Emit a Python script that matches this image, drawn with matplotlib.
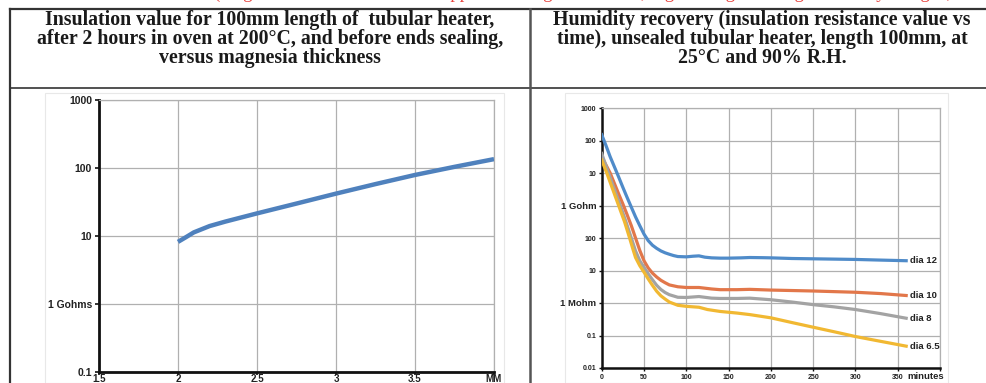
import matplotlib
matplotlib.use("Agg")
import matplotlib.pyplot as plt
from matplotlib.lines import Line2D
from matplotlib.patches import Rectangle

W, H = 987, 383

# ---------------- data ----------------
thickness_mm = [2.0, 2.05, 2.1, 2.2, 2.3, 2.5, 2.75, 3.0, 3.25, 3.5, 3.75, 4.0]
insulation_gohm = [8.2, 9.6, 11.3, 14.0, 16.3, 21.5, 30.0, 42.0, 58.0, 79.0, 104.0, 135.0]

left_xticks = [1.5, 2, 2.5, 3, 3.5, 4]
left_xlabels = ["1.5", "2", "2.5", "3", "3.5", "MM"]
left_yticks = [0.1, 1, 10, 100, 1000]
left_ylabels = ["0.1", "1 Gohms", "10", "100", "1000"]

# insulation resistance vs minutes, values in MOhm
t_dia12 = [0, 5, 10, 15, 20, 25, 30, 35, 40, 45, 50, 55, 60, 65, 70, 75, 80, 85, 90, 100, 108, 115,
           122, 130, 140, 150, 165, 175, 190, 200, 225, 250, 275, 300, 330, 360]
dia12 = [151000, 70800, 31600, 15500, 7590, 3630, 1780, 891, 447, 240, 132, 83, 60, 48, 40, 35, 31.6,
         28.8, 26.9, 26.3, 27.5, 28.2, 25.7, 24.5, 24, 24, 24.5, 25.1, 24.8, 24.5, 23.4, 22.9, 22.4,
         21.9, 20.9, 20.0]
t_dia10 = [0, 5, 10, 15, 20, 25, 30, 35, 40, 45, 50, 55, 60, 65, 70, 75, 80, 90, 100, 115, 130, 140,
           160, 175, 200, 250, 300, 330, 360]
dia10 = [31600, 17800, 10000, 4790, 2290, 1120, 525, 240, 100, 41.7, 20, 12, 8.3, 6.3, 5.0, 4.2, 3.6,
         3.16, 3.0, 3.0, 2.7, 2.57, 2.57, 2.63, 2.5, 2.34, 2.14, 1.95, 1.7]
t_dia8 = [0, 4, 8, 15, 22, 28, 35, 40, 45, 50, 55, 60, 65, 70, 75, 80, 90, 100, 115, 130, 140, 160,
          175, 200, 225, 250, 275, 300, 330, 360]
dia8 = [39800, 20000, 10000, 3160, 1000, 355, 100, 40, 20, 12.6, 7.9, 5.2, 3.5, 2.6, 2.1, 1.8, 1.5,
        1.48, 1.58, 1.41, 1.38, 1.38, 1.41, 1.26, 1.07, 0.89, 0.76, 0.63, 0.47, 0.34]
t_dia65 = [0, 3, 6, 13, 20, 27, 33, 37, 40, 45, 50, 55, 60, 65, 70, 75, 80, 90, 100, 115, 125, 140,
           160, 175, 200, 225, 250, 275, 300, 330, 360]
dia65 = [25100, 15800, 10000, 3160, 1000, 316, 100, 44.7, 25.1, 14.1, 8.9, 5.5, 3.5, 2.3, 1.66, 1.32,
         1.07, 0.85, 0.79, 0.74, 0.63, 0.55, 0.49, 0.44, 0.35, 0.25, 0.18, 0.13, 0.093, 0.066, 0.047]

series_names = ["dia 12", "dia 10", "dia 8", "dia 6.5"]
series_t = [t_dia12, t_dia10, t_dia8, t_dia65]
series_values = [dia12, dia10, dia8, dia65]
series_colors = ["#4f8bc9", "#e2774a", "#a3a3a3", "#f1b832"]

right_xticks = [0, 50, 100, 150, 200, 250, 300, 350]
right_yticks = [0.01, 0.1, 1, 10, 100, 1e3, 1e4, 1e5, 1e6]
right_ylabels = ["0.01", "0.1", "1 Mohm", "10", "100", "1 Gohm", "10", "100", "1000"]

title_left = ["Insulation value for 100mm length of  tubular heater,",
              "after 2 hours in oven at 200°C, and before ends sealing,",
              "versus magnesia thickness"]
title_right = ["Humidity recovery (insulation resistance value vs",
               "time), unsealed tubular heater, length 100mm, at",
               "25°C and 90% R.H."]
red_text = "(magnesia thickness: heaters supplied for high insulation, high voltage and high humidity designs, on request giving"

# ---------------- figure ----------------
fig = plt.figure(figsize=(W / 100, H / 100), dpi=100)
fig.patch.set_facecolor("white")


def fx(x):
    return x / W


def fy(y):
    return 1 - y / H


def hline(y, x0, x1, lw=1.5, color="#333333"):
    fig.add_artist(Line2D([fx(x0), fx(x1)], [fy(y), fy(y)], transform=fig.transFigure,
                          lw=lw, color=color, zorder=5))


def vline(x, y0, y1, lw=1.5, color="#333333"):
    fig.add_artist(Line2D([fx(x), fx(x)], [fy(y0), fy(y1)], transform=fig.transFigure,
                          lw=lw, color=color, zorder=5))


# table lines
hline(9, 10, W, lw=1.6)
hline(88, 10, W, lw=1.2)
vline(10, 9, H, lw=1.6)
vline(530, 9, H, lw=1.8, color="#555555")

# red cut-off text at top
fig.text(fx(214), fy(-2), red_text, color="#e8413c", fontsize=13.5,
         family="Liberation Serif", ha="left", va="baseline")

# header texts (one text per line)
for i, line in enumerate(title_left):
    fig.text(fx(270), fy(20 + 19 * i), line, ha="center", va="center", fontsize=14.3,
             family="Liberation Serif", weight="bold", color="#1a1a1a")
for i, line in enumerate(title_right):
    fig.text(fx(762), fy(20 + 19 * i), line, ha="center", va="center", fontsize=14.3,
             family="Liberation Serif", weight="bold", color="#1a1a1a")

# image panels
fig.add_artist(Rectangle((fx(45), fy(H)), fx(504) - fx(45), fy(93) - fy(H),
                         transform=fig.transFigure, facecolor="white",
                         edgecolor="#e8e8e8", lw=0.8, zorder=0))
fig.add_artist(Rectangle((fx(565), fy(H)), fx(948) - fx(565), fy(93) - fy(H),
                         transform=fig.transFigure, facecolor="white",
                         edgecolor="#e8e8e8", lw=0.8, zorder=0))

tick_font = dict(family="Liberation Sans", weight="bold")

# ---------------- left chart ----------------
axL = fig.add_axes([fx(99), fy(372), fx(494) - fx(99), fy(100) - fy(372)])
axL.set_yscale("log")
axL.set_xlim(1.5, 4)
axL.set_ylim(0.1, 1000)
axL.plot(thickness_mm, insulation_gohm, color="#4f81bd", lw=3.2, solid_capstyle="butt", zorder=3)
axL.set_xticks(left_xticks)
axL.set_xticklabels(left_xlabels, fontsize=7.0, color="#222222", **tick_font)
axL.set_yticks(left_yticks)
axL.set_yticklabels(left_ylabels, fontsize=7.5, color="#222222", **tick_font)
axL.minorticks_off()
axL.grid(True, color="#b0b0b0", lw=0.9)
axL.set_axisbelow(True)
for s in ["top", "right"]:
    axL.spines[s].set_color("#b0b0b0")
    axL.spines[s].set_linewidth(0.9)
for s in ["left", "bottom"]:
    axL.spines[s].set_color("#111111")
    axL.spines[s].set_linewidth(2.0)
axL.tick_params(axis="y", length=3, width=1.2, color="#111111", pad=2)
axL.tick_params(axis="x", length=2, width=1.2, color="#111111", pad=-0.8)

# ---------------- right chart ----------------
axR = fig.add_axes([fx(601.7), fy(368), fx(940) - fx(601.7), fy(108) - fy(368)])
axR.set_yscale("log")
axR.set_xlim(0, 400)
axR.set_ylim(0.01, 1e6)
for name, tt, vals, col in zip(series_names, series_t, series_values, series_colors):
    axR.plot(tt, vals, color=col, lw=2.3, zorder=3, solid_joinstyle="round")
    axR.annotate(name, (tt[-1], vals[-1]), xytext=(3, 0), textcoords="offset points",
                 ha="left", va="center", fontsize=6.8, color="#222222", **tick_font)
axR.set_xticks(right_xticks + [400])
axR.set_xticklabels([str(v) for v in right_xticks] + [""], fontsize=5, color="#222222", **tick_font)
axR.text(383, -0.014, "minutes", transform=axR.get_xaxis_transform(), ha="center", va="top",
         fontsize=6.8, color="#222222", **tick_font)
axR.set_yticks(right_yticks)
axR.set_yticklabels(right_ylabels, fontsize=5, color="#222222", **tick_font)
for lbl in axR.get_yticklabels():
    if "ohm" in lbl.get_text():
        lbl.set_fontsize(6.8)
axR.minorticks_off()
axR.grid(True, color="#b0b0b0", lw=0.9)
axR.set_axisbelow(True)
for s in ["top", "right"]:
    axR.spines[s].set_color("#b0b0b0")
    axR.spines[s].set_linewidth(0.9)
for s in ["left", "bottom"]:
    axR.spines[s].set_color("#111111")
    axR.spines[s].set_linewidth(1.8)
axR.tick_params(axis="both", length=2, width=1.0, color="#111111", pad=2)

fig.savefig("out.png", dpi=100, facecolor="white")
